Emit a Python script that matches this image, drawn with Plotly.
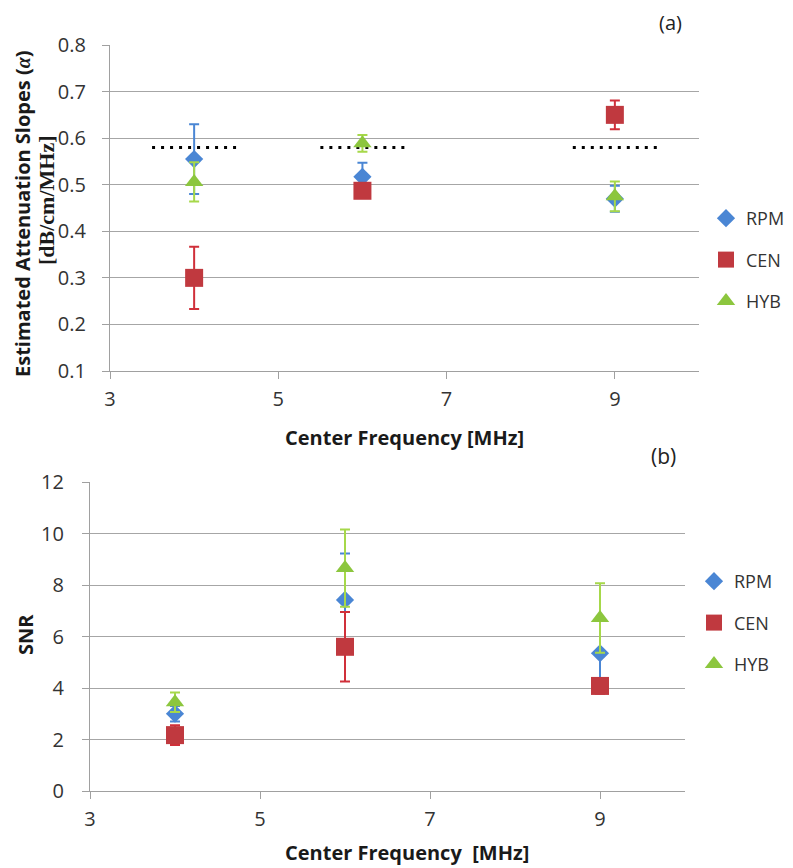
import plotly.graph_objects as go

# ---------------- data ----------------
freqs = [4, 6, 9]
methods = ["RPM", "CEN", "HYB"]

# (a) attenuation slopes
att_rpm = [0.555, 0.517, 0.470]
att_rpm_err = [0.075, 0.030, 0.028]
att_cen = [0.300, 0.487, 0.650]
att_cen_err = [0.067, 0.010, 0.031]
att_hyb = [0.506, 0.589, 0.475]
att_hyb_err = [0.042, 0.018, 0.032]

ref_value = 0.58
ref_x_start = [3.5, 5.5, 8.5]
ref_x_end = [4.5, 6.5, 9.5]

# (b) SNR
snr_rpm = [3.0, 7.42, 5.35]
snr_rpm_err = [0.3, 1.8, 1.3]
snr_cen = [2.17, 5.6, 4.08]
snr_cen_err = [0.38, 1.35, 0.3]
snr_hyb = [3.45, 8.66, 6.72]
snr_hyb_err = [0.38, 1.5, 1.35]

x_ticks = [3, 5, 7, 9]
att_ticks = [0.1, 0.2, 0.3, 0.4, 0.5, 0.6, 0.7, 0.8]
snr_ticks = [0, 2, 4, 6, 8, 10, 12]

colors = {"RPM": "#4a86d4", "CEN": "#c0393f", "HYB": "#8cc63e"}
err_colors = {"RPM": "#4a86d4", "CEN": "#d0303a", "HYB": "#a6d84a"}
symbols = {"RPM": "diamond", "CEN": "square", "HYB": "triangle-up"}
sizes = {"RPM": 14, "CEN": 18, "HYB": 16}

FONT = "'Open Sans', Lato, sans-serif"

fig = go.Figure()

# reference dotted lines (a)
for xs, xe in zip(ref_x_start, ref_x_end):
    fig.add_trace(go.Scatter(
        x=[xs, xe], y=[ref_value, ref_value], mode="lines",
        line=dict(color="black", width=3, dash="3px,6px"),
        showlegend=False, hoverinfo="skip", xaxis="x", yaxis="y"))

att_data = {"RPM": (att_rpm, att_rpm_err), "CEN": (att_cen, att_cen_err), "HYB": (att_hyb, att_hyb_err)}
snr_data = {"RPM": (snr_rpm, snr_rpm_err), "CEN": (snr_cen, snr_cen_err), "HYB": (snr_hyb, snr_hyb_err)}

for m in methods:
    v, e = att_data[m]
    fig.add_trace(go.Scatter(
        x=freqs, y=v, mode="markers", name=m, legend="legend", legendgroup="a" + m,
        marker=dict(symbol=symbols[m], size=sizes[m], color=colors[m]),
        error_y=dict(type="data", array=e, visible=True, color=err_colors[m], thickness=2, width=5),
        xaxis="x", yaxis="y"))

for m in methods:
    v, e = snr_data[m]
    fig.add_trace(go.Scatter(
        x=freqs, y=v, mode="markers", name=m, legend="legend2", legendgroup="b" + m,
        marker=dict(symbol=symbols[m], size=sizes[m], color=colors[m]),
        error_y=dict(type="data", array=e, visible=True, color=err_colors[m], thickness=2, width=5),
        xaxis="x2", yaxis="y2"))

# page is offset by the default 8px body margin
OFF = 8
W, H = 793 - OFF, 868 - OFF
def px_x(p):
    return (p - OFF) / W
def px_y(p):
    return 1 - (p - OFF) / H

axis_common = dict(
    showline=True, linecolor="#a0a0a0", linewidth=1.3,
    ticks="outside", ticklen=7, tickcolor="#a0a0a0",
    tickfont=dict(family=FONT, size=20, color="#333333"),
    zeroline=False,
)

legend_common = dict(
    font=dict(family=FONT, size=18, color="#333333"),
    bgcolor="rgba(0,0,0,0)", tracegroupgap=15,
    xanchor="left", yanchor="middle", itemwidth=30,
)

fig.update_layout(
    width=W, height=H,
    margin=dict(l=0, r=0, t=0, b=0, autoexpand=False),
    paper_bgcolor="white", plot_bgcolor="white",
    showlegend=True,
    xaxis=dict(domain=[px_x(110), px_x(699)], range=[3, 10], tickvals=x_ticks,
               showgrid=False, anchor="y", ticklabelstandoff=3, **axis_common),
    yaxis=dict(domain=[px_y(371), px_y(45)], range=[0.1, 0.8], tickvals=att_ticks,
               tickformat=".1f", showgrid=True, gridcolor="#a6a6a6", gridwidth=1.3,
               anchor="x", ticklabelstandoff=12, **axis_common),
    xaxis2=dict(domain=[px_x(90), px_x(685)], range=[3, 10], tickvals=x_ticks,
                showgrid=False, anchor="y2", ticklabelstandoff=3, **axis_common),
    yaxis2=dict(domain=[px_y(791), px_y(482)], range=[0, 12], tickvals=snr_ticks,
                showgrid=True, gridcolor="#a6a6a6", gridwidth=1.3,
                anchor="x2", ticklabelstandoff=14, **axis_common),
    legend=dict(x=px_x(706), y=px_y(260), **legend_common),
    legend2=dict(x=px_x(694), y=px_y(623), **legend_common),
)

title_font = dict(family=FONT, size=20, color="#1a1a1a")
serif = "font-family:'Liberation Serif','DejaVu Serif',serif"
ann = [
    dict(text="<b>Center Frequency [MHz]</b>", x=px_x(404), y=px_y(437)),
    dict(text="<b>Center Frequency  [MHz]</b>", x=px_x(407), y=px_y(852)),
    dict(text="<b>SNR</b>", x=px_x(25), y=px_y(635), textangle=-90),
    dict(text="<b>Estimated Attenuation Slopes (</b><span style=\"" + serif + "\"><b><i>α</i></b></span><b>)</b>",
         x=px_x(22), y=px_y(214), textangle=-90, font=dict(family=FONT, size=20, color="#1a1a1a")),
    dict(text="<span style=\"" + serif + "\"><b>[dB/cm/MHz]</b></span>",
         x=px_x(46), y=px_y(200), textangle=-90, font=dict(family=FONT, size=22, color="#1a1a1a")),
    dict(text="(a)", x=px_x(670), y=px_y(22), font=dict(family=FONT, size=20, color="#222222")),
    dict(text="(b)", x=px_x(663), y=px_y(456), font=dict(family=FONT, size=21, color="#222222")),
]
for a in ann:
    a.setdefault("font", title_font)
    fig.add_annotation(xref="paper", yref="paper", showarrow=False,
                       xanchor="center", yanchor="middle", **a)

fig.write_html("out.html")
